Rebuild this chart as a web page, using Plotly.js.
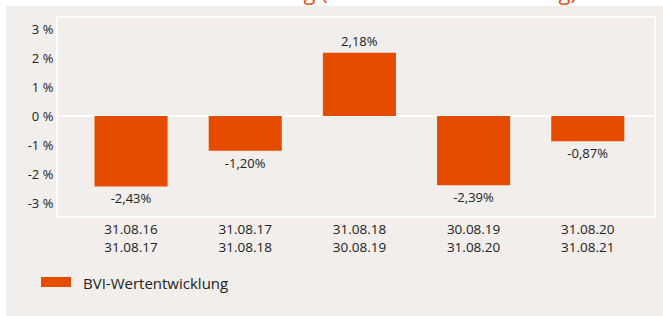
<!DOCTYPE html>
<html>
<head>
<meta charset="utf-8">
<script src="https://cdn.plot.ly/plotly-3.0.1.min.js"></script>
<style>
  html, body { margin: 0; padding: 0; background: #ffffff; overflow: hidden; }
  #panel { position: absolute; left: 6px; top: 6px; width: 657px; height: 310px; background: #f1eeeb; }
  #chart { position: absolute; left: 0; top: 0; width: 663px; height: 316px; }
  #title { position: absolute; left: 0; width: 720px; top: -20px; text-align: center;
           font-family: 'Open Sans', sans-serif; font-size: 22px; line-height: 22px;
           color: #e8501a; white-space: nowrap; z-index: 2; }
</style>
</head>
<body>
<div id="panel"></div>
<div id="chart"></div>
<div id="title"></div>
<script>
// Data
const periodStart = ["31.08.16", "31.08.17", "31.08.18", "30.08.19", "31.08.20"];
const periodEnd   = ["31.08.17", "31.08.18", "30.08.19", "31.08.20", "31.08.21"];
const values      = [-2.43, -1.20, 2.18, -2.39, -0.87];
const seriesName  = "BVI-Wertentwicklung";
const yTickVals   = [-3, -2, -1, 0, 1, 2, 3];
const titleText   = "Wertentwicklung (12-Monats-Betrachtung)";

document.getElementById("title").textContent = titleText;

const categories = periodStart.map((s, i) => s + "<br>" + periodEnd[i]);
const labels = values.map(v => v.toFixed(2).replace(".", ",") + "%");
const yTickText = yTickVals.map(v => v + " %");

const orange = "#e64c00";
const textColor = "#222222";
const font = "'Open Sans', 'DejaVu Sans', sans-serif";

const W = 663, H = 316;
const L = 58, R = 9, T = 18, B = 100;
const pw = W - L - R, ph = H - T - B;
const px = x => (x - L) / pw;
const py = y => (H - B - y) / ph;

const trace = {
  type: "bar",
  x: categories,
  y: values,
  name: seriesName,
  marker: { color: orange },
  width: 0.64,
  text: labels,
  textposition: "outside",
  cliponaxis: false,
  textfont: { family: font, size: 13, color: textColor },
  hoverinfo: "skip",
  showlegend: false
};

const layout = {
  width: W, height: H,
  margin: { l: L, r: R, t: T, b: B },
  paper_bgcolor: "rgba(0,0,0,0)",
  plot_bgcolor: "rgba(0,0,0,0)",
  font: { family: font, size: 13, color: textColor },
  xaxis: {
    type: "category",
    range: [-0.64, 4.58],
    showgrid: false,
    zeroline: false,
    showline: true, mirror: true, linecolor: "#ffffff", linewidth: 2,
    ticks: "",
    tickfont: { family: font, size: 13.5, color: textColor },
    fixedrange: true
  },
  yaxis: {
    range: [-3.45, 3.38],
    tickvals: yTickVals,
    ticktext: yTickText,
    showgrid: false,
    zeroline: true, zerolinecolor: "#ffffff", zerolinewidth: 2,
    showline: true, mirror: true, linecolor: "#ffffff", linewidth: 2,
    ticks: "",
    ticklabelstandoff: 0,
    tickfont: { family: font, size: 13, color: textColor },
    fixedrange: true
  },
  shapes: [
    { type: "rect", xref: "paper", yref: "paper",
      x0: px(41), x1: px(71), y0: py(287), y1: py(277),
      fillcolor: orange, line: { width: 0 } }
  ],
  annotations: [
    { xref: "paper", yref: "paper", x: px(81), y: py(283),
      xanchor: "left", yanchor: "middle", showarrow: false,
      text: seriesName, font: { family: font, size: 15, color: textColor } }
  ],
  showlegend: false
};

Plotly.newPlot("chart", [trace], layout, { displayModeBar: false, staticPlot: true });
</script>
</body>
</html>
